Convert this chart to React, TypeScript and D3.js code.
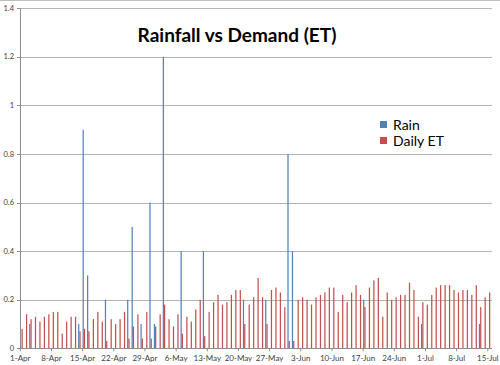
import React from "react";
import * as d3 from "d3";

const startDate = new Date(2010, 3, 1);
const dayCount = 106;

const etValues = [
  0.08, 0.14, 0.12, 0.13, 0.11, 0.13, 0.14, 0.15, 0.15, 0.06,
  0.11, 0.13, 0.13, 0.07, 0.08, 0.07, 0.12, 0.15, 0.11, 0.03,
  0.12, 0.10, 0.12, 0.15, 0.04, 0.09, 0.14, 0.04, 0.15, 0.04,
  0.09, 0.14, 0.18, 0.12, 0.09, 0.14, 0.06, 0.13, 0.11, 0.16,
  0.20, 0.05, 0.15, 0.19, 0.22, 0.18, 0.19, 0.22, 0.24, 0.24,
  0.10, 0.18, 0.21, 0.29, 0.21, 0.10, 0.24, 0.25, 0.23, 0.17,
  0.03, 0.03, 0.20, 0.21, 0.20, 0.18, 0.21, 0.22, 0.23, 0.25,
  0.25, 0.15, 0.22, 0.19, 0.23, 0.26, 0.22, 0.17, 0.25, 0.28,
  0.29, 0.13, 0.23, 0.20, 0.21, 0.22, 0.22, 0.27, 0.24, 0.13,
  0.19, 0.18, 0.22, 0.25, 0.26, 0.26, 0.26, 0.24, 0.23, 0.24,
  0.24, 0.22, 0.26, 0.17, 0.21, 0.23,
];

const rainValues = [
  0, 0, 0.10, 0, 0, 0, 0, 0, 0, 0,
  0, 0, 0, 0.10, 0.90, 0.30, 0, 0, 0, 0.20,
  0, 0, 0, 0, 0.20, 0.50, 0, 0.10, 0, 0.60,
  0.10, 0, 1.20, 0, 0, 0, 0.40, 0, 0, 0,
  0, 0.40, 0, 0, 0, 0, 0, 0, 0, 0,
  0.20, 0, 0, 0, 0, 0.20, 0, 0, 0, 0,
  0.80, 0.40, 0, 0, 0, 0, 0, 0, 0, 0,
  0, 0, 0, 0, 0, 0, 0, 0.20, 0, 0,
  0, 0, 0, 0, 0, 0, 0, 0, 0, 0,
  0.10, 0, 0, 0, 0, 0, 0, 0, 0, 0,
  0, 0, 0, 0.10, 0, 0,
];

const yTicks = [0, 0.2, 0.4, 0.6, 0.8, 1, 1.2, 1.4];
const xTickDays = [0, 7, 14, 21, 28, 35, 42, 49, 56, 63, 70, 77, 84, 91, 98, 105];
const seriesNames = ["Rain", "Daily ET"];
const seriesColors = ["#4F81BD", "#C0504D"];
const title = "Rainfall vs Demand (ET)";

const W = 500;
const H = 365;
const plotLeft = 20;
const plotRight = 492;
const plotTop = 8.3;
const plotBottom = 348.3;

export default function App() {
  const x = d3.scaleLinear().domain([0, 105]).range([20.3, 487.8]);
  const y = d3.scaleLinear().domain([0, 1.4]).range([plotBottom, plotTop]);
  const inner = d3.scaleBand().domain(seriesNames).range([-0.1, 2.5]).padding(0.04);
  const fmtDate = d3.timeFormat("%-d-%b");
  const dates = d3.range(dayCount).map((i) => d3.timeDay.offset(startDate, i));
  const fmtY = (v: number) => d3.format("~g")(v);

  const bar = (vals: number[], s: number) =>
    vals.map((v, i) =>
      v > 0 ? (
        <rect
          key={`${s}-${i}`}
          x={x(i) + (inner(seriesNames[s]) as number)}
          y={y(v)}
          width={inner.bandwidth()}
          height={y(0) - y(v)}
          fill={seriesColors[s]}
        />
      ) : null
    );

  return (
    <svg
      width={W}
      height={H}
      style={{ position: "absolute", left: 0, top: 0, background: "#fff" }}
      fontFamily="Lato, 'Liberation Sans', sans-serif"
    >
      <rect x={0} y={0} width={W} height={H} fill="#fff" />
      <line x1={0} x2={W} y1={0.5} y2={0.5} stroke="#bdbdbd" />
      {yTicks.filter((t) => t > 0).map((t) => (
        <line key={t} x1={plotLeft} x2={plotRight} y1={Math.round(y(t)) + 0.5} y2={Math.round(y(t)) + 0.5} stroke="#b4b4b4" />
      ))}
      {yTicks.map((t) => (
        <g key={`yt${t}`}>
          <line x1={plotLeft - 3} x2={plotLeft} y1={Math.round(y(t)) + 0.5} y2={Math.round(y(t)) + 0.5} stroke="#8c8c8c" />
          <text x={14} y={y(t)} dy="0.35em" textAnchor="end" fontSize={7.5} fill="#404040">
            {fmtY(t)}
          </text>
        </g>
      ))}
      {bar(rainValues, 0)}
      {bar(etValues, 1)}
      <line x1={plotLeft + 0.5} x2={plotLeft + 0.5} y1={plotTop} y2={plotBottom} stroke="#8c8c8c" />
      <line x1={plotLeft} x2={plotRight} y1={Math.round(plotBottom) + 0.5} y2={Math.round(plotBottom) + 0.5} stroke="#8c8c8c" />
      {xTickDays.map((d) => (
        <g key={`xt${d}`}>
          <line x1={x(d)} x2={x(d)} y1={plotBottom} y2={plotBottom + 3} stroke="#8c8c8c" />
          <text x={x(d)} y={361} textAnchor="middle" fontSize={8} fill="#404040">
            {fmtDate(dates[d])}
          </text>
        </g>
      ))}
      <text x={237} y={42} textAnchor="middle" fontSize={19} fontWeight="bold" fill="#000">
        {title}
      </text>
      {seriesNames.map((n, k) => (
        <g key={n}>
          <rect x={380} y={121 + k * 16} width={7} height={7} fill={seriesColors[k]} />
          <text x={393} y={125 + k * 16} dy="0.35em" fontSize={14} fill="#000">
            {n}
          </text>
        </g>
      ))}
    </svg>
  );
}
